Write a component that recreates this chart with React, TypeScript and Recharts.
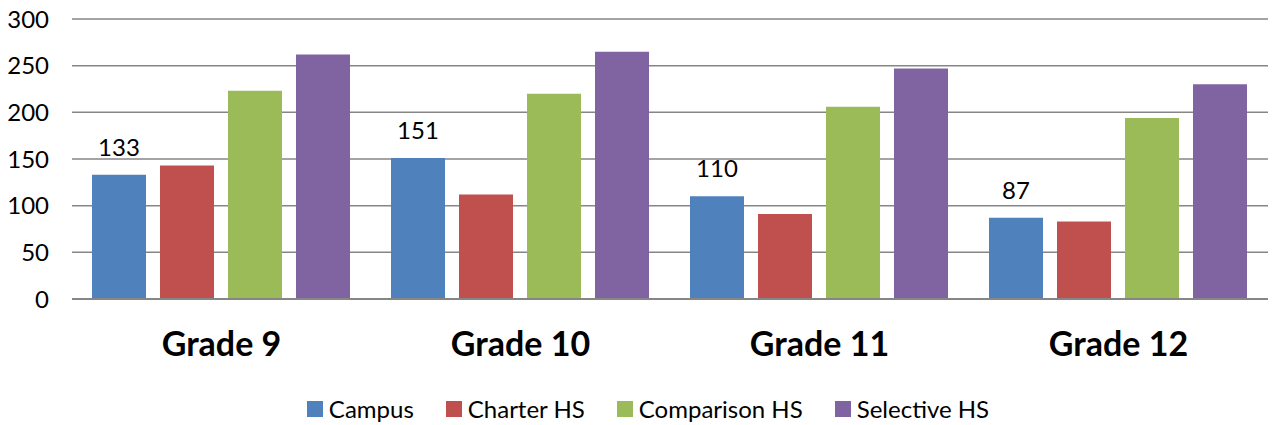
import React from 'react';
import { BarChart, Bar, XAxis, YAxis, CartesianGrid, Legend, LabelList } from 'recharts';

const grades = ['Grade 9', 'Grade 10', 'Grade 11', 'Grade 12'];
const campus = [133, 151, 110, 87];
const charterHS = [143, 112, 91, 83];
const comparisonHS = [223, 220, 206, 194];
const selectiveHS = [262, 265, 247, 230];
const yTicks = [0, 50, 100, 150, 200, 250, 300];

const data = grades.map((g, i) => ({
  grade: g,
  campus: campus[i],
  charter: charterHS[i],
  comparison: comparisonHS[i],
  selective: selectiveHS[i],
}));

const FONT = 'Lato, "Noto Sans", sans-serif';

const renderLegend = (props: any) => {
  const { payload } = props;
  return (
    <div style={{ display: 'flex', justifyContent: 'center', fontFamily: FONT, fontSize: 24, color: '#000', paddingLeft: 60 }}>
      {payload.map((entry: any) => (
        <div key={entry.value} style={{ display: 'flex', alignItems: 'center', marginRight: 32 }}>
          <span style={{ width: 16, height: 16, background: entry.color, display: 'inline-block', marginRight: 6 }} />
          <span>{entry.value}</span>
        </div>
      ))}
    </div>
  );
};

const App: React.FC = () => {
  return (
    <div style={{ position: 'absolute', left: 0, top: 0, width: 1275, height: 425, background: '#fff' }}>
      <BarChart
        width={1275}
        height={425}
        data={data}
        margin={{ top: 19, right: 7, left: 0, bottom: 2 }}
        barGap={14}
        barCategoryGap={20}
      >
        <CartesianGrid vertical={false} stroke="#868686" strokeWidth={1.5} />
        <XAxis
          dataKey="grade"
          height={95}
          tickLine={false}
          axisLine={{ stroke: '#868686', strokeWidth: 2 }}
          tickMargin={27}
          tick={{ fontSize: 34, fontWeight: 700, fill: '#000', fontFamily: FONT }}
        />
        <YAxis
          width={72}
          domain={[0, 300]}
          ticks={yTicks}
          axisLine={false}
          tickLine={false}
          tickMargin={17}
          tick={{ fontSize: 24, fill: '#000', fontFamily: FONT }}
        />
        <Legend verticalAlign="bottom" content={renderLegend} />
        <Bar dataKey="campus" name="Campus" fill="#4F81BD" isAnimationActive={false}>
          <LabelList dataKey="campus" position="top" offset={19} style={{ fontSize: 24, fill: '#000', fontFamily: FONT }} />
        </Bar>
        <Bar dataKey="charter" name="Charter HS" fill="#C0504D" isAnimationActive={false} />
        <Bar dataKey="comparison" name="Comparison HS" fill="#9BBB59" isAnimationActive={false} />
        <Bar dataKey="selective" name="Selective HS" fill="#8064A2" isAnimationActive={false} />
      </BarChart>
    </div>
  );
};

export default App;
